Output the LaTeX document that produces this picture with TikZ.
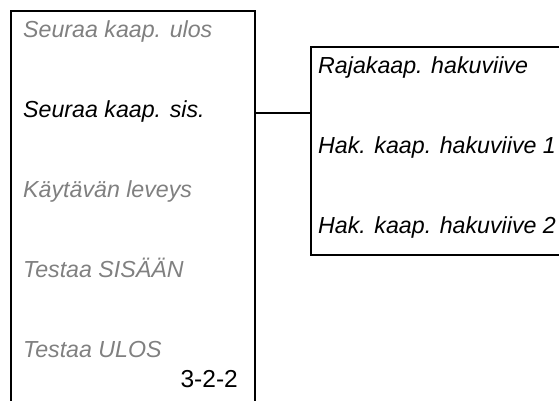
\documentclass[tikz,border=0pt]{standalone}
\usepackage{fontspec}
\setmainfont{Liberation Sans}
\usetikzlibrary{positioning}
\definecolor{dimtext}{gray}{0.5}
\tikzset{
  menuitem/.style={anchor=base west, inner sep=0pt, font=\fontsize{23.2}{27}\selectfont\itshape},
  inactive/.style={menuitem, text=dimtext},
  active/.style={menuitem, text=black},
  frame/.style={line width=1.5pt},
}
\begin{document}
\begin{tikzpicture}[x=1pt, y=-1pt]
    \useasboundingbox (0,0) rectangle (559,400);

    % Main menu frame (open at the bottom)
    \draw[frame] (11,410) -- (11,11) -- (255,11) -- (255,410);

    % Main menu entries
    \node[inactive] (ulos) at (23,37) {Seuraa kaap. ulos};
    \node[active] (sis) at (23,117) {Seuraa kaap. sis.};
    \node[inactive] (leveys) at (23,197) {Käytävän leveys};
    \node[inactive] (sisaan) at (23,277) {Testaa SISÄÄN};
    \node[inactive] (ulostest) at (23,357) {Testaa ULOS};

    % Menu number
    \node[anchor=base east, inner sep=0pt, font=\fontsize{24.5}{28}\selectfont] (nro) at (238,387) {3-2-2};

    % Submenu frame (runs on past the right edge)
    \draw[frame] (570,47) -- (311,47) -- (311,255) -- (570,255);

    % Submenu entries
    \node[active] (raja) at (318,73) {Rajakaap. hakuviive};
    \node[active] (hak1) at (318,153) {Hak. kaap. hakuviive 1};
    \node[active] (hak2) at (318,233) {Hak. kaap. hakuviive 2};

    % Link from the chosen entry to its submenu
    \coordinate (mainR) at (255,113);
    \coordinate (subL) at (311,113);
    \draw[frame] (mainR) -- (subL);
\end{tikzpicture}
\end{document}
